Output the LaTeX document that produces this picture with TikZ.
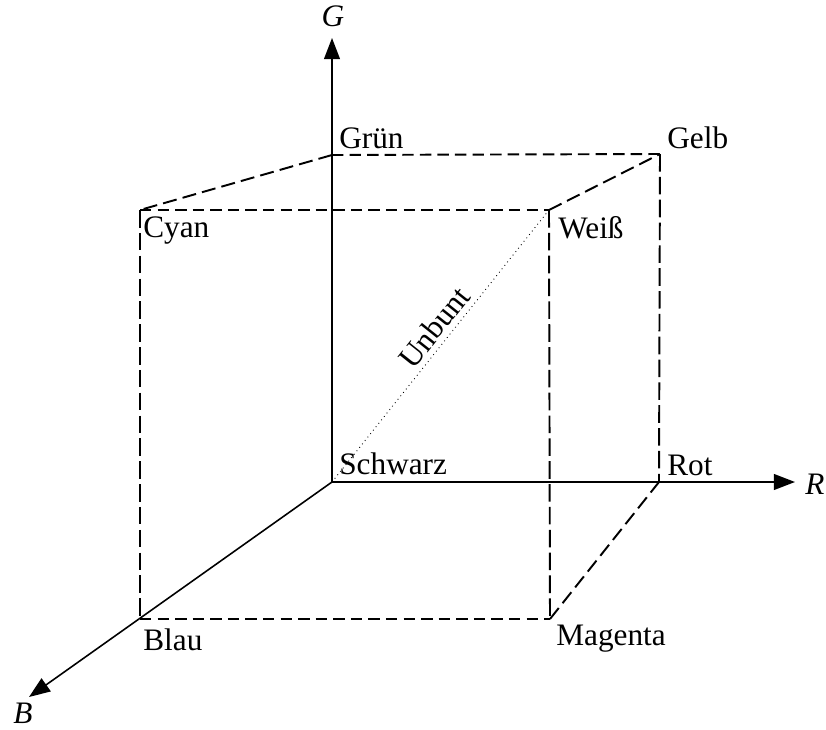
\documentclass[tikz,border=0pt]{standalone}
\usepackage{fontspec}
\setmainfont{Liberation Serif}
\usetikzlibrary{arrows.meta}

\begin{document}
\begin{tikzpicture}[x=0.02cm, y=-0.02cm, >={Triangle[length=12pt,width=9pt]},
    font=\fontsize{17.8}{20}\selectfont,
    axis/.style={line width=0.9pt, ->},
    hedge/.style={line width=1.1pt, dash pattern=on 6.5pt off 3.5pt},
    vedge/.style={line width=1.1pt, dash pattern=on 10pt off 3pt},
    dedge/.style={line width=1.1pt, dash pattern=on 8pt off 3.5pt},
    lbl/.style={anchor=base west, inner sep=0pt}]
    \useasboundingbox (0,0) rectangle (826,730);

    % Corners of the cube
    \coordinate (schwarz) at (332,482);
    \coordinate (rot) at (659,482);
    \coordinate (gruen) at (332,155);
    \coordinate (gelb) at (660,154);
    \coordinate (cyan) at (140,210);
    \coordinate (weiss) at (549,210);
    \coordinate (blau) at (140,619);
    \coordinate (magenta) at (550,619);

    % Axis ends
    \coordinate (gTip) at (332,38);
    \coordinate (rTip) at (795,482);
    \coordinate (bTip) at (29,697);

    % Axes
    \draw[axis] (schwarz) -- (gTip);
    \draw[axis] (schwarz) -- (rTip);
    \draw[axis] (schwarz) -- (bTip);

    % Edges
    \draw[hedge] (gruen) -- (gelb);
    \draw[hedge] (cyan) -- (weiss);
    \draw[hedge] (blau) -- (magenta);
    \draw[vedge] (gelb) -- (rot);
    \draw[vedge] (cyan) -- (blau);
    \draw[vedge] (weiss) -- (magenta);
    \draw[dedge] (gruen) -- (cyan);
    \draw[dedge] (weiss) -- (gelb);
    \draw[dedge] (magenta) -- (rot);

    % Grey axis
    \draw[line width=0.5pt, dotted] (schwarz) -- (weiss)
        node[pos=0.53, sloped, above, inner sep=3pt] (lUnbunt) {Unbunt};

    % Corner labels
    \node[lbl] (lSchwarz) at (339,474) {Schwarz};
    \node[lbl] (lRot) at (667,475) {Rot};
    \node[lbl] (lGruen) at (339,148) {Grün};
    \node[lbl] (lGelb) at (667,148) {Gelb};
    \node[lbl] (lCyan) at (143,237) {Cyan};
    \node[lbl] (lWeiss) at (558,238) {Weiß};
    \node[lbl] (lBlau) at (143,650) {Blau};
    \node[lbl] (lMagenta) at (556,645) {Magenta};

    % Axis labels
    \node[anchor=base, inner sep=0pt] (lG) at (333,27) {\textit{G}};
    \node[lbl] (lR) at (805,494) {\textit{R}};
    \node[lbl] (lB) at (13,723) {\textit{B}};
\end{tikzpicture}
\end{document}
